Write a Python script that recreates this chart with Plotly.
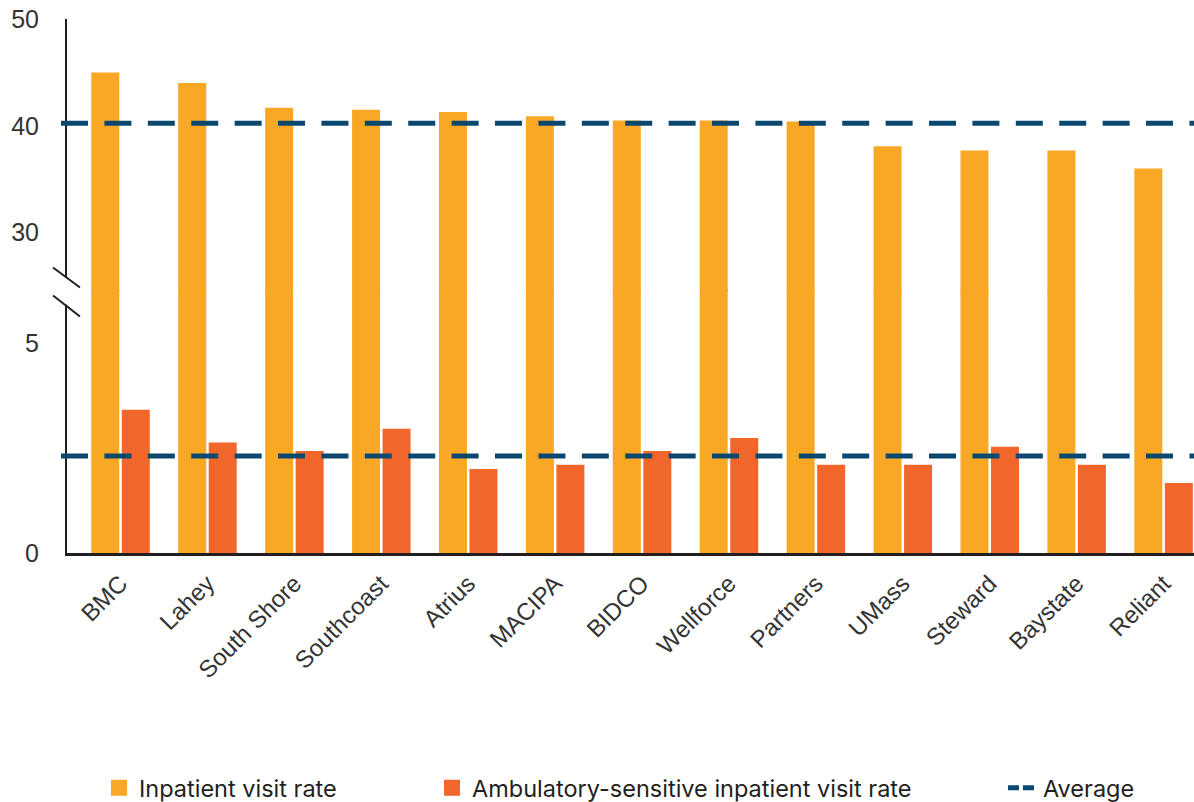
import plotly.graph_objects as go

# ---------------- data ----------------
categories = ["BMC", "Lahey", "South Shore", "Southcoast", "Atrius", "MACIPA", "BIDCO",
              "Wellforce", "Partners", "UMass", "Steward", "Baystate", "Reliant"]
inpatient_rate = [45.0, 44.0, 41.7, 41.5, 41.3, 40.9, 40.5, 40.5, 40.4, 38.1, 37.7, 37.7, 36.0]
ambulatory_rate = [3.41, 2.63, 2.43, 2.96, 2.00, 2.10, 2.43, 2.74, 2.10, 2.10, 2.53, 2.10, 1.67]
inpatient_average = 40.25
ambulatory_average = 2.31
lower_ticks = [0, 5]
upper_ticks = [30, 40, 50]

# ---------------- style ----------------
ORANGE = "#F9A825"
RED = "#F1672B"
NAVY = "#0B4870"
AXIS = "#231F20"
TEXT = "#333333"
TICK_FONT = dict(family="Liberation Sans, Arial, sans-serif", size=25, color=TEXT)
CAT_FONT = dict(family="Liberation Sans, Arial, sans-serif", size=24, color=TEXT)
LEG_FONT = dict(family="Inter, sans-serif", size=23.5, color=AXIS)

fig = go.Figure()

# bars in both panels (lower: 0..~6, upper: ~24.5..50) so they read as continuous
for yax in ["y", "y2"]:
    fig.add_trace(go.Bar(x=categories, y=inpatient_rate, marker_color=ORANGE,
                         marker_line_width=0, yaxis=yax, showlegend=False,
                         hoverinfo="x+y", name="Inpatient visit rate"))
    fig.add_trace(go.Bar(x=categories, y=ambulatory_rate, marker_color=RED,
                         marker_line_width=0, yaxis=yax, showlegend=False,
                         hoverinfo="x+y", name="Ambulatory-sensitive inpatient visit rate"))

# legend entries
fig.add_trace(go.Scatter(x=[None], y=[None], mode="markers", name="Inpatient visit rate",
                         marker=dict(symbol="square", size=16, color=ORANGE), legend="legend"))
fig.add_trace(go.Scatter(x=[None], y=[None], mode="markers",
                         name="Ambulatory-sensitive inpatient visit rate",
                         marker=dict(symbol="square", size=16, color=RED), legend="legend2"))
fig.add_trace(go.Scatter(x=[None], y=[None], mode="lines", name="Average",
                         line=dict(color=NAVY, width=5, dash="11px,4px"), legend="legend3"))

# average lines
avg_dash = "27px,16.4px"
fig.add_shape(type="line", xref="paper", x0=-0.0053, x1=1, yref="y2",
              y0=inpatient_average, y1=inpatient_average, layer="above",
              line=dict(color=NAVY, width=5, dash=avg_dash))
fig.add_shape(type="line", xref="paper", x0=-0.0053, x1=1, yref="y",
              y0=ambulatory_average, y1=ambulatory_average, layer="above",
              line=dict(color=NAVY, width=5, dash=avg_dash))

# axis break: white gap in axis line and two slashes
fig.add_shape(type="rect", xref="paper", yref="paper", x0=-0.004, x1=0.004,
              y0=0.4653, y1=0.516, fillcolor="white", line_width=0, layer="above")
fig.add_shape(type="line", xref="paper", yref="paper", x0=-0.0124, x1=0.0115,
              y0=0.5347, y1=0.4972, line=dict(color=AXIS, width=2), layer="above")
fig.add_shape(type="line", xref="paper", yref="paper", x0=-0.0124, x1=0.0115,
              y0=0.4822, y1=0.4428, line=dict(color=AXIS, width=2), layer="above")

boundary = 0.4897
overlap = 0.0038
leg_common = dict(orientation="v", yanchor="middle", y=-0.4401, xanchor="left",
                  font=LEG_FONT, bgcolor="rgba(0,0,0,0)", borderwidth=0)

fig.update_layout(
    width=1194, height=802,
    margin=dict(l=67, r=0, t=19, b=249, autoexpand=False),
    paper_bgcolor="white", plot_bgcolor="rgba(0,0,0,0)",
    barmode="group", bargap=0.298, bargroupgap=0.082,
    xaxis=dict(type="category", categoryorder="array", categoryarray=categories,
               range=[-0.616, 12.35], showline=True, linecolor=AXIS, linewidth=3,
               ticks="", tickangle=-45, tickfont=CAT_FONT, showgrid=False,
               ticklabelstandoff=4, zeroline=False, anchor="y", fixedrange=True),
    yaxis=dict(domain=[0, boundary + overlap],
               range=[0, 6.23 * (boundary + overlap) / boundary], tickvals=lower_ticks,
               showline=True, linecolor=AXIS, linewidth=2, ticks="",
               tickfont=TICK_FONT, ticklabelstandoff=21, ticklabeloverflow="allow",
               showgrid=False, zeroline=False, anchor="x"),
    yaxis2=dict(domain=[boundary, 1], range=[24.5, 50], tickvals=upper_ticks,
                showline=True, linecolor=AXIS, linewidth=2, ticks="",
                tickfont=TICK_FONT, ticklabelstandoff=21, ticklabeloverflow="allow",
                showgrid=False, zeroline=False, anchor="x"),
    legend=dict(x=0.0284, **leg_common),
    legend2=dict(x=0.3239, **leg_common),
    legend3=dict(x=0.8305, **leg_common),
)

fig.write_html("out.html", config={"displayModeBar": False},
               post_script="document.body.style.margin='0';document.body.style.overflow='hidden';")
